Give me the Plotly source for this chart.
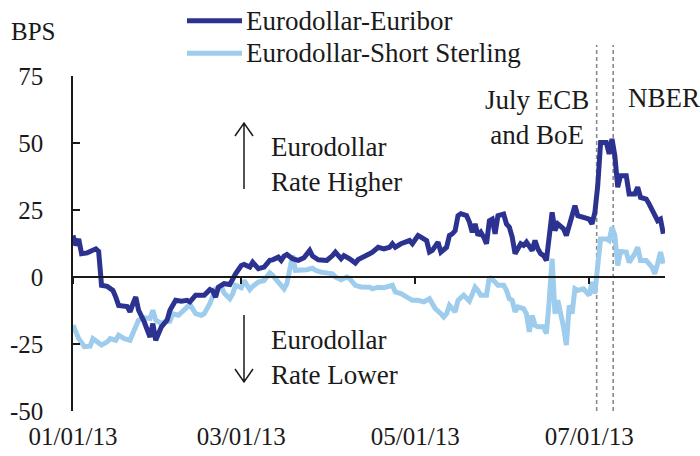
import plotly.graph_objects as go

# ---------------- data ----------------
euribor_dates = [
    "2013-01-01", "2013-01-02", "2013-01-03", "2013-01-04", "2013-01-06", "2013-01-09", "2013-01-10",
    "2013-01-11", "2013-01-13", "2013-01-14", "2013-01-15", "2013-01-16", "2013-01-17", "2013-01-20",
    "2013-01-21", "2013-01-22", "2013-01-23", "2013-01-24", "2013-01-26", "2013-01-28", "2013-01-29",
    "2013-01-30", "2013-02-01", "2013-02-03", "2013-02-04", "2013-02-06", "2013-02-08", "2013-02-10",
    "2013-02-11", "2013-02-13", "2013-02-15", "2013-02-16", "2013-02-18", "2013-02-19", "2013-02-20",
    "2013-02-21", "2013-02-23", "2013-02-25", "2013-02-27", "2013-03-01", "2013-03-02", "2013-03-04",
    "2013-03-05", "2013-03-06", "2013-03-07", "2013-03-09", "2013-03-11", "2013-03-12", "2013-03-14",
    "2013-03-15", "2013-03-16", "2013-03-17", "2013-03-19", "2013-03-21", "2013-03-23", "2013-03-25",
    "2013-03-26", "2013-03-28", "2013-03-31", "2013-04-02", "2013-04-03", "2013-04-05", "2013-04-06",
    "2013-04-08", "2013-04-10", "2013-04-11", "2013-04-13", "2013-04-15", "2013-04-16", "2013-04-18",
    "2013-04-20", "2013-04-22", "2013-04-23", "2013-04-24", "2013-04-26", "2013-04-28", "2013-04-29",
    "2013-04-30", "2013-05-01", "2013-05-02", "2013-05-03", "2013-05-05", "2013-05-06", "2013-05-07",
    "2013-05-09", "2013-05-10", "2013-05-12", "2013-05-13", "2013-05-14", "2013-05-15", "2013-05-16",
    "2013-05-17", "2013-05-19", "2013-05-20", "2013-05-21", "2013-05-22", "2013-05-23", "2013-05-24",
    "2013-05-25", "2013-05-26", "2013-05-27", "2013-05-28", "2013-05-29", "2013-05-30", "2013-06-01",
    "2013-06-02", "2013-06-03", "2013-06-04", "2013-06-05", "2013-06-07", "2013-06-08", "2013-06-09",
    "2013-06-11", "2013-06-12", "2013-06-13", "2013-06-14", "2013-06-15", "2013-06-16", "2013-06-18",
    "2013-06-19", "2013-06-20", "2013-06-22", "2013-06-23", "2013-06-26", "2013-06-27", "2013-06-29",
    "2013-07-01", "2013-07-02", "2013-07-03", "2013-07-04", "2013-07-05", "2013-07-07", "2013-07-08",
    "2013-07-09", "2013-07-10", "2013-07-11", "2013-07-12", "2013-07-14", "2013-07-15", "2013-07-17",
    "2013-07-18", "2013-07-19", "2013-07-21", "2013-07-22", "2013-07-24", "2013-07-25", "2013-07-26",
    "2013-07-27",
]
euribor_bps = [
    15.5, 11.8, 14.2, 8.7, 9.0, 10.5, 9.5,
    -3.1, -3.5, -4.5, -5.0, -7.5, -10.6, -11.0,
    -13.0, -10.0, -7.5, -12.4, -16.8, -22.4, -17.4,
    -23.6, -18.6, -16.1, -12.4, -8.7, -9.0, -8.7,
    -9.3, -6.8, -6.5, -6.8, -4.7, -5.2, -7.5,
    -3.8, -2.5, -2.8, 1.2, 4.3, 4.7, 3.7,
    5.5, 4.3, 3.1, 3.7, 6.2, 6.4, 7.4,
    6.2, 7.8, 8.4, 6.8, 6.2, 7.2, 9.9,
    7.8, 6.4, 6.2, 8.0, 9.3, 6.8, 8.0,
    6.8, 5.2, 6.5, 7.4, 8.7, 9.3, 11.1,
    10.5, 11.1, 12.4, 11.1, 12.4, 13.0, 13.6,
    12.4, 13.6, 15.5, 14.9, 13.6, 9.3, 9.9,
    13.0, 9.3, 11.1, 15.5, 16.1, 17.3, 22.9,
    23.6, 22.9, 20.5, 16.7, 19.8, 15.5, 16.7,
    14.9, 12.4, 21.0, 21.6, 16.1, 22.9, 23.5,
    19.8, 18.6, 14.9, 8.7, 12.4, 11.8, 13.0,
    9.9, 13.6, 10.5, 8.7, 8.0, 6.2, 24.1,
    17.3, 19.8, 18.0, 15.5, 26.6, 22.9, 22.3,
    21.6, 19.8, 24.1, 34.1, 50.2, 50.2, 45.9,
    51.5, 45.2, 33.5, 37.8, 37.8, 31.0, 31.0,
    33.5, 29.7, 29.1, 27.3, 22.9, 21.0, 21.6,
    16.1,
]

sterling_dates = [
    "2013-01-01", "2013-01-03", "2013-01-05", "2013-01-07", "2013-01-08", "2013-01-10", "2013-01-11",
    "2013-01-13", "2013-01-14", "2013-01-16", "2013-01-17", "2013-01-19", "2013-01-21", "2013-01-22",
    "2013-01-24", "2013-01-26", "2013-01-28", "2013-01-29", "2013-01-30", "2013-02-01", "2013-02-02",
    "2013-02-04", "2013-02-05", "2013-02-07", "2013-02-09", "2013-02-11", "2013-02-13", "2013-02-15",
    "2013-02-16", "2013-02-18", "2013-02-20", "2013-02-22", "2013-02-23", "2013-02-25", "2013-02-26",
    "2013-02-27", "2013-03-01", "2013-03-02", "2013-03-04", "2013-03-05", "2013-03-07", "2013-03-09",
    "2013-03-11", "2013-03-12", "2013-03-14", "2013-03-16", "2013-03-17", "2013-03-18", "2013-03-19",
    "2013-03-20", "2013-03-22", "2013-03-24", "2013-03-26", "2013-03-27", "2013-03-29", "2013-03-31",
    "2013-04-02", "2013-04-03", "2013-04-05", "2013-04-07", "2013-04-08", "2013-04-10", "2013-04-12",
    "2013-04-15", "2013-04-16", "2013-04-18", "2013-04-20", "2013-04-23", "2013-04-24", "2013-04-26",
    "2013-04-28", "2013-04-30", "2013-05-02", "2013-05-04", "2013-05-06", "2013-05-07", "2013-05-08",
    "2013-05-10", "2013-05-11", "2013-05-12", "2013-05-13", "2013-05-14", "2013-05-15", "2013-05-16",
    "2013-05-18", "2013-05-20", "2013-05-21", "2013-05-22", "2013-05-23", "2013-05-24", "2013-05-26",
    "2013-05-27", "2013-05-29", "2013-05-30", "2013-06-01", "2013-06-02", "2013-06-03", "2013-06-04",
    "2013-06-05", "2013-06-06", "2013-06-08", "2013-06-09", "2013-06-10", "2013-06-11", "2013-06-12",
    "2013-06-13", "2013-06-15", "2013-06-16", "2013-06-17", "2013-06-18", "2013-06-19", "2013-06-20",
    "2013-06-22", "2013-06-23", "2013-06-24", "2013-06-25", "2013-06-26", "2013-06-27", "2013-06-29",
    "2013-07-01", "2013-07-02", "2013-07-03", "2013-07-04", "2013-07-05", "2013-07-07", "2013-07-08",
    "2013-07-09", "2013-07-10", "2013-07-11", "2013-07-12", "2013-07-14", "2013-07-15", "2013-07-17",
    "2013-07-18", "2013-07-19", "2013-07-21", "2013-07-23", "2013-07-24", "2013-07-25", "2013-07-26",
    "2013-07-27",
]
sterling_bps = [
    -18.0, -23.0, -26.0, -25.8, -23.0, -24.8, -25.4,
    -24.2, -23.0, -23.6, -21.7, -23.0, -23.6, -21.0,
    -16.1, -15.2, -15.5, -12.4, -16.1, -17.4, -16.8,
    -16.5, -13.7, -14.3, -12.4, -10.2, -13.7, -14.3,
    -13.7, -9.9, -4.4, -3.5, -6.0, -8.1, -6.2,
    -3.1, -4.0, -1.3, -4.7, -3.5, -1.9, -1.3,
    1.5, 0.6, -1.9, -4.4, -2.5, 2.5, 8.0,
    2.5, 2.5, 2.7, 3.3, 2.5, 1.8, 1.4,
    1.2, 0.0, -1.0, 0.0, -0.6, -3.1, -3.7,
    -3.8, -4.4, -3.8, -4.0, -3.1, -5.6, -6.2,
    -7.5, -8.7, -8.7, -9.3, -8.1, -10.0, -11.8,
    -13.7, -14.9, -13.7, -10.6, -11.8, -13.0, -8.7,
    -6.8, -9.0, -6.2, -3.8, -5.0, -6.8, -6.8,
    0.0, -1.9, -3.1, -3.1, -5.0, -8.1, -8.7,
    -13.0, -11.2, -11.8, -13.7, -20.5, -14.3, -18.0,
    -18.6, -18.6, -21.1, -8.7, 6.8, -13.7, -8.7,
    -18.6, -25.4, -10.6, -13.7, -4.4, -5.0, -4.4,
    -6.8, -1.9, -6.2, 4.3, 14.2, 14.2, 13.6,
    18.6, 15.5, 4.3, 9.5, 9.3, 5.5, 8.7,
    11.1, 6.2, 6.2, 3.7, 1.2, 5.0, 9.3,
    5.0,
]

series_names = ["Eurodollar-Euribor", "Eurodollar-Short Sterling"]
series_colors = ["#2B3290", "#9DCCEC"]

y_tickvals = [-50, -25, 0, 25, 50, 75]
y_ticktext = ["-50", "-25", "0", "25", "50", "75"]
x_tickvals = ["2013-01-01", "2013-03-01", "2013-05-01", "2013-07-01"]
x_ticktext = ["01/01/13", "03/01/13", "05/01/13", "07/01/13"]
x_range = ["2013-01-01", "2013-07-27 14:00"]
y_range = [-50, 75]

event_dates = ["2013-07-03 15:00", "2013-07-09 10:00"]
event_labels = ["July ECB<br>and BoE", "NBER"]

# ---------------- layout helpers (pixel -> paper) ----------------
W, H = 700, 456
L, R, T, B = 73, 35, 76, 45
PW, PH = W - L - R, H - T - B


def px(p):
    return (p - L) / PW


def py(p):
    return (H - B - p) / PH


FONT = "Liberation Serif"
FS = 27
TFS = 25
TXT = "#1a1a1a"

fig = go.Figure()
for dates, vals, name, col in [
    (sterling_dates, sterling_bps, series_names[1], series_colors[1]),
    (euribor_dates, euribor_bps, series_names[0], series_colors[0]),
]:
    fig.add_trace(go.Scatter(x=dates, y=vals, mode="lines", name=name,
                             line=dict(color=col, width=5), showlegend=False))

shapes = []
# event dashed lines
for d in event_dates:
    shapes.append(dict(type="line", xref="x", yref="paper", x0=d, x1=d, y0=0, y1=py(45),
                       line=dict(color="#8a8a8a", width=1.6, dash="4px,3px"), layer="below"))
# legend samples
for i, col in enumerate(series_colors):
    yy = py(20.7 + 32.6 * i)
    shapes.append(dict(type="line", xref="paper", yref="paper", x0=px(187), x1=px(242),
                       y0=yy, y1=yy, line=dict(color=col, width=5)))
# up arrow
ax_ = 244
shapes.append(dict(type="path", xref="paper", yref="paper",
                   path=f"M{px(ax_)},{py(189)} L{px(ax_)},{py(123)} M{px(ax_-9)},{py(136)} L{px(ax_)},{py(123)} L{px(ax_+9)},{py(136)}",
                   line=dict(color="#1a1a1a", width=1.5)))
# down arrow
shapes.append(dict(type="path", xref="paper", yref="paper",
                   path=f"M{px(ax_)},{py(315)} L{px(ax_)},{py(382)} M{px(ax_-9)},{py(369)} L{px(ax_)},{py(382)} L{px(ax_+9)},{py(369)}",
                   line=dict(color="#1a1a1a", width=1.5)))

annotations = []
for i, nm in enumerate(series_names):
    annotations.append(dict(text=nm, xref="paper", yref="paper", x=px(244), y=py(20.7 + 32.6 * i),
                            xanchor="left", yanchor="middle", showarrow=False,
                            font=dict(family=FONT, size=FS, color=TXT)))
annotations.append(dict(text="BPS", xref="paper", yref="paper", x=px(9), y=py(32),
                        xanchor="left", yanchor="middle", showarrow=False,
                        font=dict(family=FONT, size=FS - 2, color=TXT)))
annotations.append(dict(text="Eurodollar<br>Rate Higher", xref="paper", yref="paper", x=px(269), y=py(164),
                        xanchor="left", yanchor="middle", align="left", showarrow=False,
                        font=dict(family=FONT, size=FS, color=TXT)))
annotations.append(dict(text="Eurodollar<br>Rate Lower", xref="paper", yref="paper", x=px(269), y=py(357),
                        xanchor="left", yanchor="middle", align="left", showarrow=False,
                        font=dict(family=FONT, size=FS, color=TXT)))
annotations.append(dict(text=event_labels[0], xref="paper", yref="paper", x=px(537), y=py(117),
                        xanchor="center", yanchor="middle", align="center", showarrow=False,
                        font=dict(family=FONT, size=FS, color=TXT)))
annotations.append(dict(text=event_labels[1], xref="paper", yref="paper", x=px(626), y=py(98),
                        xanchor="left", yanchor="middle", showarrow=False,
                        font=dict(family=FONT, size=FS, color=TXT)))

fig.update_layout(
    width=W, height=H,
    margin=dict(l=L, r=R, t=T, b=B, pad=0),
    paper_bgcolor="white", plot_bgcolor="white",
    showlegend=False,
    shapes=shapes, annotations=annotations,
    xaxis=dict(type="date", range=x_range, tickvals=x_tickvals, ticktext=x_ticktext,
               showgrid=False, zeroline=False, showline=False, ticks="", automargin=False,
               tickfont=dict(family=FONT, size=TFS, color=TXT), ticklabelstandoff=8),
    xaxis2=dict(type="date", range=x_range, overlaying="x", anchor="free", position=py(276.6),
                tickvals=x_tickvals, showticklabels=False, showgrid=False, zeroline=False,
                showline=True, linecolor="#1a1a1a", linewidth=1.5, automargin=False,
                ticks="outside", ticklen=7, tickwidth=1.5, tickcolor="#1a1a1a"),
    yaxis=dict(range=y_range, tickvals=y_tickvals, ticktext=y_ticktext, automargin=False,
               showgrid=False, zeroline=False, showline=True, linecolor="#1a1a1a", linewidth=1.5,
               ticks="inside", ticklen=7, tickwidth=1.5, tickcolor="#1a1a1a",
               tickfont=dict(family=FONT, size=TFS, color=TXT), ticklabelstandoff=23),
)

# invisible anchor so the zero-line date axis (xaxis2) is rendered
fig.add_trace(go.Scatter(x=euribor_dates[:1], y=euribor_bps[:1], xaxis="x2", mode="markers",
                         marker=dict(opacity=0), hoverinfo="skip", showlegend=False))

fig.write_html("out.html", config={"displayModeBar": False},
               post_script="document.body.style.margin='0';")
